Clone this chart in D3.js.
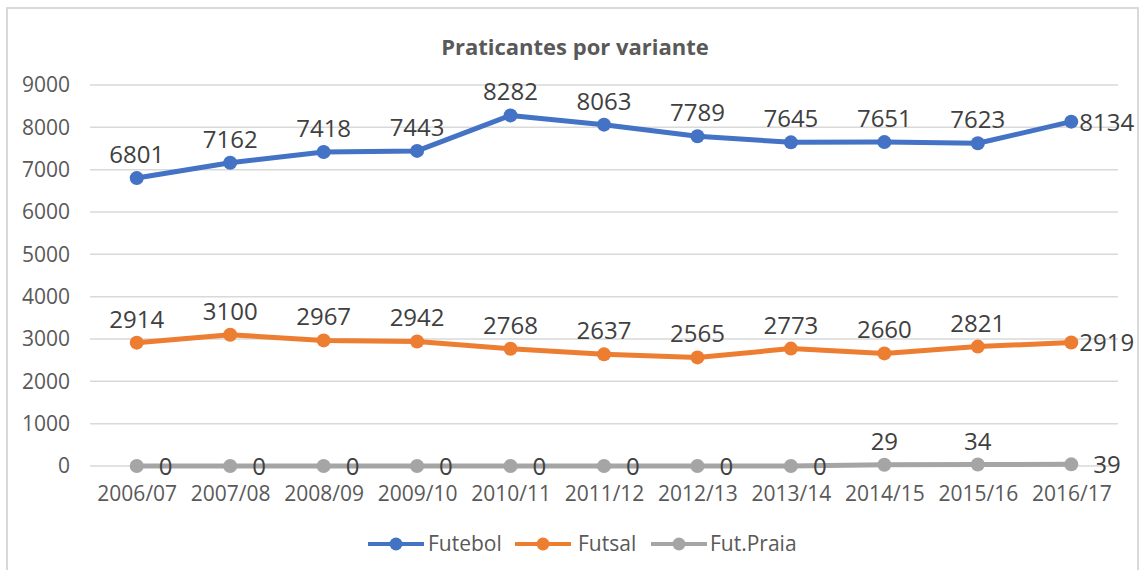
<!DOCTYPE html>
<html>
<head>
<meta charset="utf-8">
<script src="https://cdn.jsdelivr.net/npm/d3@7"></script>
<style>
  html, body { margin: 0; padding: 0; background: #fff; }
  svg { display: block; font-family: 'Open Sans', sans-serif; }
</style>
</head>
<body>
<div id="chart"></div>
<script>
(function () {
"use strict";

// Data
var seasons = ["2006/07", "2007/08", "2008/09", "2009/10", "2010/11", "2011/12",
               "2012/13", "2013/14", "2014/15", "2015/16", "2016/17"];
var futebol = [6801, 7162, 7418, 7443, 8282, 8063, 7789, 7645, 7651, 7623, 8134];
var futsal  = [2914, 3100, 2967, 2942, 2768, 2637, 2565, 2773, 2660, 2821, 2919];
var praia   = [0, 0, 0, 0, 0, 0, 0, 0, 29, 34, 39];
var yTicks  = [0, 1000, 2000, 3000, 4000, 5000, 6000, 7000, 8000, 9000];

var seriesNames  = ["Futebol", "Futsal", "Fut.Praia"];
var seriesColors = ["#4472C4", "#ED7D31", "#A5A5A5"];
var seriesValues = [futebol, futsal, praia];

var fullWidth = 1142, fullHeight = 570;

var plot = { left: 90, right: 1118, top: 85, bottom: 466 };

var svg = d3.select("#chart").append("svg")
  .attr("width", fullWidth)
  .attr("height", fullHeight)
  .attr("viewBox", "0 0 " + fullWidth + " " + fullHeight);

// Chart frame
svg.append("rect")
  .attr("x", 7).attr("y", 8)
  .attr("width", 1131).attr("height", 580)
  .style("fill", "#fff")
  .style("stroke", "#d9d9d9")
  .style("stroke-width", 2);

var xScale = d3.scalePoint()
  .domain(seasons)
  .range([plot.left, plot.right])
  .padding(0.5);

var yScale = d3.scaleLinear()
  .domain([0, 9000])
  .range([plot.bottom, plot.top]);

// Title
svg.append("text")
  .attr("x", 575)
  .attr("y", 55)
  .style("text-anchor", "middle")
  .style("font-weight", "bold")
  .style("font-size", "22px")
  .style("fill", "#595959")
  .text("Praticantes por variante");

// Gridlines
svg.append("g")
  .selectAll("line")
  .data(yTicks)
  .enter()
    .append("line")
      .attr("x1", plot.left)
      .attr("x2", plot.right)
      .attr("y1", function(d) { return yScale(d); })
      .attr("y2", function(d) { return yScale(d); })
      .style("stroke", "#d9d9d9")
      .style("stroke-width", 1.5);

// Y axis
var yAxis = d3.axisLeft(yScale)
  .tickValues(yTicks)
  .tickSize(0)
  .tickPadding(0)
  .tickFormat(d3.format("d"));

var yAxisG = svg.append("g")
  .attr("transform", "translate(70,0)")
  .call(yAxis);
yAxisG.select(".domain").remove();
yAxisG.selectAll("text")
  .style("font-family", "'Open Sans', sans-serif")
  .style("font-size", "21px")
  .style("fill", "#595959");

// X axis
var xAxis = d3.axisBottom(xScale)
  .tickSize(0)
  .tickPadding(0);

var xAxisG = svg.append("g")
  .attr("transform", "translate(0," + (plot.bottom + 20) + ")")
  .call(xAxis);
xAxisG.select(".domain").remove();
xAxisG.selectAll("text")
  .style("font-family", "'Open Sans', sans-serif")
  .style("font-size", "21px")
  .style("fill", "#595959");

var line = d3.line()
  .x(function(d) { return xScale(d.season); })
  .y(function(d) { return yScale(d.value); });

function onRight(d) {
  return d.value === 0 || d.idx === seasons.length - 1;
}

// Series (drawn bottom-up so Futebol is on top)
for (var s = seriesNames.length - 1; s >= 0; s--) {
  var pts = seasons.map(function(season, i) {
    return { season: season, value: seriesValues[s][i], idx: i };
  });
  var color = seriesColors[s];
  var g = svg.append("g").attr("class", "series");

  g.append("path")
    .datum(pts)
    .attr("d", line)
    .style("fill", "none")
    .style("stroke", color)
    .style("stroke-width", 5)
    .style("stroke-linejoin", "round")
    .style("stroke-linecap", "round");

  g.selectAll("circle")
    .data(pts)
    .enter()
      .append("circle")
        .attr("cx", function(d) { return xScale(d.season); })
        .attr("cy", function(d) { return yScale(d.value); })
        .attr("r", 7)
        .style("fill", color);

  var rightGap = (s === 2) ? 22 : 8;
  g.selectAll("text")
    .data(pts)
    .enter()
      .append("text")
        .attr("x", function(d) {
          return xScale(d.season) + (onRight(d) ? rightGap : 0);
        })
        .attr("y", function(d) {
          return yScale(d.value) + (onRight(d) ? 9 : -15);
        })
        .style("text-anchor", function(d) {
          return onRight(d) ? "start" : "middle";
        })
        .style("font-size", "24px")
        .style("fill", "#404040")
        .text(function(d) { return d.value; });
}

// Legend
var legendItems = [
  { x: 368, textX: 428 },
  { x: 515, textX: 578 },
  { x: 651, textX: 710 }
];
var legend = svg.append("g").attr("class", "legend");
seriesNames.forEach(function(name, i) {
  var lg = legend.append("g");
  var x0 = legendItems[i].x;
  lg.append("line")
    .attr("x1", x0).attr("x2", x0 + 56)
    .attr("y1", 544).attr("y2", 544)
    .style("stroke", seriesColors[i])
    .style("stroke-width", 4);
  lg.append("circle")
    .attr("cx", x0 + 28).attr("cy", 544)
    .attr("r", 6.5)
    .style("fill", seriesColors[i]);
  lg.append("text")
    .attr("x", legendItems[i].textX)
    .attr("y", 551)
    .style("font-size", "21px")
    .style("fill", "#595959")
    .text(name);
});

})();
</script>
</body>
</html>
